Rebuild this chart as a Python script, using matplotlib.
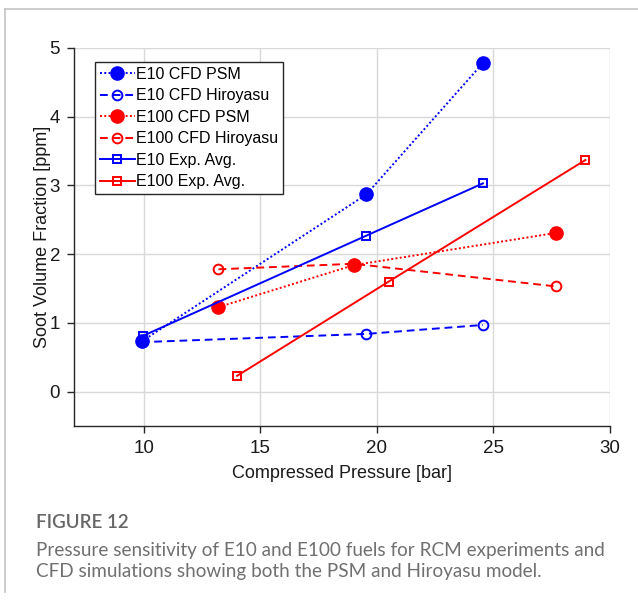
import matplotlib.pyplot as plt
from matplotlib.lines import Line2D

# values
e10_psm_x = [9.9, 19.55, 24.55]
e10_psm_y = [0.73, 2.87, 4.78]
e10_hiro_x = [9.9, 19.55, 24.55]
e10_hiro_y = [0.72, 0.84, 0.97]
e100_psm_x = [13.2, 19.0, 27.7]
e100_psm_y = [1.23, 1.84, 2.31]
e100_hiro_x = [13.2, 19.0, 27.7]
e100_hiro_y = [1.78, 1.86, 1.53]
e10_exp_x = [9.95, 19.55, 24.55]
e10_exp_y = [0.81, 2.27, 3.03]
e100_exp_x = [14.0, 20.5, 28.95]
e100_exp_y = [0.23, 1.60, 3.37]

labels = ['E10 CFD PSM', 'E10 CFD Hiroyasu', 'E100 CFD PSM',
          'E100 CFD Hiroyasu', 'E10 Exp. Avg.', 'E100 Exp. Avg.']

plt.rcParams['font.family'] = ['Liberation Sans', 'DejaVu Sans']

fig = plt.figure(figsize=(6.38, 6.03), dpi=100)
ax = fig.add_axes([0.116, 0.2935, 0.840, 0.627])

lw = 1.4
dot = (0, (1, 1.2))
dash = (0, (4, 2.5))
ax.plot(e10_psm_x, e10_psm_y, color='#0000ff', ls=dot, lw=lw, marker='o', ms=9.5,
        label=labels[0], zorder=3)
ax.plot(e10_hiro_x, e10_hiro_y, color='#0000ff', ls=dash, lw=lw, marker='o', ms=7,
        mfc='none', mew=1.4, label=labels[1], zorder=3)
ax.plot(e100_psm_x, e100_psm_y, color='#ff0000', ls=dot, lw=lw, marker='o', ms=9.5,
        label=labels[2], zorder=3)
ax.plot(e100_hiro_x, e100_hiro_y, color='#ff0000', ls=dash, lw=lw, marker='o', ms=7,
        mfc='none', mew=1.4, label=labels[3], zorder=3)
ax.plot(e10_exp_x, e10_exp_y, color='#0000ff', ls='-', lw=lw, marker='s', ms=6,
        mfc='none', mew=1.4, label=labels[4], zorder=3)
ax.plot(e100_exp_x, e100_exp_y, color='#ff0000', ls='-', lw=lw, marker='s', ms=6,
        mfc='none', mew=1.4, label=labels[5], zorder=3)

ax.set_xlim(7, 30)
ax.set_ylim(-0.5, 5)
ax.set_xticks([10, 15, 20, 25, 30])
ax.set_yticks([0, 1, 2, 3, 4, 5])
ax.grid(True, color='#d9d9d9', lw=1.0)
ax.set_axisbelow(True)
for s in ['top', 'right']:
    ax.spines[s].set_visible(False)
for s in ['left', 'bottom']:
    ax.spines[s].set_color('#262626')
    ax.spines[s].set_linewidth(1.0)
ax.tick_params(direction='out', length=5, width=1, labelsize=13.5, colors='#262626',
               labelcolor='#1a1a1a', pad=5)

ax.set_xlabel('Compressed Pressure [bar]', fontsize=13, color='#1a1a1a', labelpad=6)
ax.set_ylabel('Soot Volume Fraction [ppm]', fontsize=13, color='#1a1a1a', labelpad=-1)

leg = ax.legend(loc='upper left', bbox_to_anchor=(0.039, 0.963), borderaxespad=0,
                fontsize=11.5, fancybox=False, framealpha=1, edgecolor='#262626',
                handlelength=2.2, handletextpad=0.1, labelspacing=0.41,
                borderpad=0.3)
leg.get_frame().set_linewidth(1.0)

# caption box border
fig.add_artist(Line2D([5 / 638, 1], [1 - 9 / 603, 1 - 9 / 603], color='#c8c8c8',
                      lw=1.3, transform=fig.transFigure))
fig.add_artist(Line2D([4.5 / 638, 4.5 / 638], [1 - 9 / 603, 1 - 592 / 603],
                      color='#c8c8c8', lw=1.3, transform=fig.transFigure))

fig.text(36 / 638, 1 - 522 / 603, 'FIGURE 12', fontsize=13.5, fontweight='semibold',
         color='#666666', family='Lato', va='center')
fig.text(36 / 638, 1 - 561 / 603,
         'Pressure sensitivity of E10 and E100 fuels for RCM experiments and\n'
         'CFD simulations showing both the PSM and Hiroyasu model.',
         fontsize=13.6, color='#707070', family='Lato', va='center',
         linespacing=1.27)

fig.savefig('out.png', dpi=100)
